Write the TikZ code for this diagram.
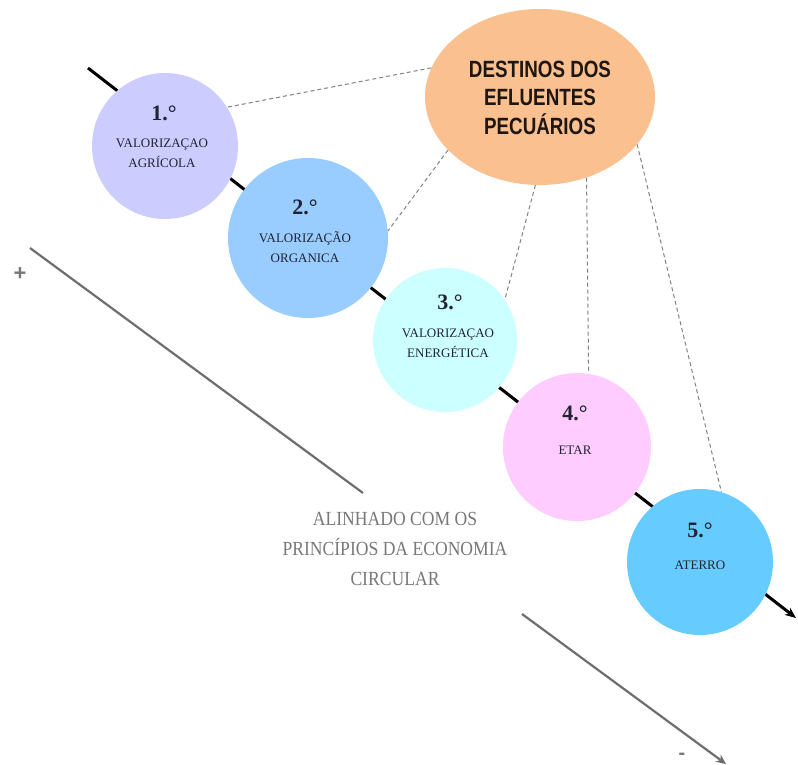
\documentclass[tikz,border=0pt]{standalone}
\usepackage{fontspec}
\setmainfont{Liberation Serif}
\newfontfamily\headsans[FakeStretch=0.8]{Liberation Sans}
\newfontfamily\narrowserif[FakeStretch=0.88]{Liberation Serif}
\newfontfamily\signsans{Liberation Sans}
\usetikzlibrary{arrows.meta,shapes.geometric}
\definecolor{cone}{RGB}{204,204,255}
\definecolor{ctwo}{RGB}{153,204,255}
\definecolor{cthree}{RGB}{204,255,255}
\definecolor{cfour}{RGB}{255,204,255}
\definecolor{cfive}{RGB}{102,204,255}
\definecolor{corange}{RGB}{250,192,143}
\definecolor{txtdark}{RGB}{34,34,52}
\definecolor{headtxt}{RGB}{30,22,18}
\definecolor{dashgrey}{RGB}{130,130,130}
\definecolor{trendgrey}{RGB}{110,110,110}
\definecolor{softgrey}{RGB}{120,120,120}
\begin{document}
\begin{tikzpicture}[x=1pt,y=-1pt,
  disc/.style={circle,inner sep=0pt,draw=none},
  num/.style={font=\fontsize{22}{24}\selectfont\bfseries,text=txtdark,anchor=base},
  lab/.style={font=\fontsize{13}{20}\selectfont,text=txtdark,align=center,anchor=base},
  link/.style={draw=dashgrey,line width=1pt,dash pattern=on 4pt off 3pt},
  axis/.style={line width=3pt,-{Stealth[length=11pt,width=9pt]}},
  trend/.style={draw=trendgrey,line width=2.2pt}]
\useasboundingbox[fill=white] (0,0) rectangle (798,764);

% main diagonal
\coordinate (ls) at (88,68);
\coordinate (le) at (796,618);
\draw[axis] (ls) -- (le);

% destination ellipse
\node[ellipse,fill=corange,minimum width=230pt,minimum height=176pt,inner sep=0pt] (dest) at (540,97) {};
\node[font=\headsans\bfseries\fontsize{23.5}{28.5}\selectfont,text=headtxt,align=center,anchor=base] (destt) at (540,134) {DESTINOS DOS\\EFLUENTES\\PECUÁRIOS};

% circles
\node[disc,fill=cone,minimum size=146pt] (c1) at (165,146) {};
\node[disc,fill=ctwo,minimum size=160pt] (c2) at (308,238) {};
\node[disc,fill=cthree,minimum size=144pt] (c3) at (445,340) {};
\node[disc,fill=cfour,minimum size=148pt] (c4) at (577,447) {};
\node[disc,fill=cfive,minimum size=146pt] (c5) at (700,562) {};

% circle texts
\node[num] (n1) at (164,120) {1.°};
\node[lab] (l1) at (162,167) {VALORIZAÇAO\\AGRÍCOLA};
\node[num] (n2) at (305,214) {2.°};
\node[lab] (l2) at (305,262) {VALORIZAÇÃO\\ORGANICA};
\node[num] (n3) at (450,309) {3.°};
\node[lab] (l3) at (448,357) {VALORIZAÇAO\\ENERGÉTICA};
\node[num] (n4) at (575,420) {4.°};
\node[lab] (l4) at (575,454) {ETAR};
\node[num] (n5) at (700,537) {5.°};
\node[lab] (l5) at (700,569) {ATERRO};

% dashed links
\draw[link] (dest.165) -- (c1.32);
\draw[link] (dest.210) -- (c2.5);
\draw[link] (dest.267) -- (c3.34);
\draw[link] (dest.-60) -- (c4.81);
\draw[link] (dest.-26) -- (c5.73);

% grey trend line
\coordinate (ta) at (30,248);
\coordinate (tb) at (363,493);
\coordinate (tc) at (522,614);
\coordinate (td) at (726,764);
\draw[trend] (ta) -- (tb);
\draw[trend,-{Stealth[length=10pt,width=9pt]}] (tc) -- (td);
\node[font=\signsans\bfseries\fontsize{22}{22}\selectfont,text=softgrey] (plus) at (20,274) {+};
\node[font=\signsans\bfseries\fontsize{20}{20}\selectfont,text=softgrey] (minus) at (682,756) {-};

\node[font=\narrowserif\fontsize{20}{30}\selectfont,text=softgrey,align=center,anchor=base] (note) at (395,585) {ALINHADO COM OS\\PRINCÍPIOS DA ECONOMIA\\CIRCULAR};
\end{tikzpicture}
\end{document}
